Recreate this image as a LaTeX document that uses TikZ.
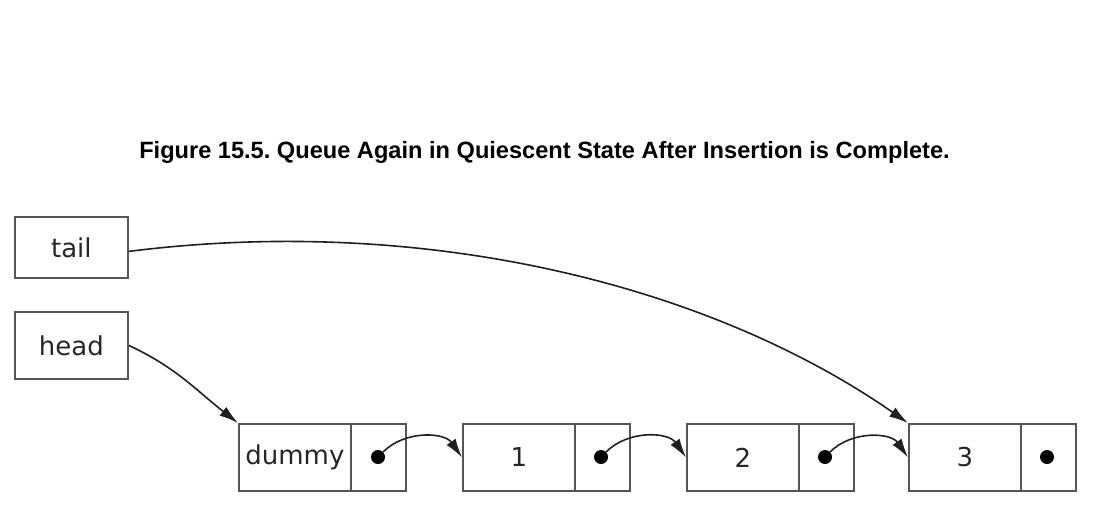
\documentclass[tikz,border=0pt]{standalone}
\usepackage{fontspec}
\setmainfont{DejaVu Sans}
\newfontfamily\titlefont{Liberation Sans}
\usetikzlibrary{arrows.meta}
\frenchspacing
\definecolor{boxline}{HTML}{555555}
\definecolor{inkline}{HTML}{202020}
\tikzset{
  cellbox/.style={draw=boxline, line width=1.8pt, rectangle, inner sep=0pt, anchor=north west,
    minimum height=67pt, font=\fontsize{26}{29}\selectfont, text=black!85},
  valcell/.style={cellbox, minimum width=112pt},
  ptrcell/.style={cellbox, minimum width=55pt},
  namebox/.style={cellbox, minimum width=113pt, minimum height=61pt},
  ptrdot/.style={circle, fill=black, inner sep=0pt, minimum size=14pt},
  link/.style={draw=inkline, line width=1.6pt, -{Latex[length=19pt,width=11pt]}},
}
\begin{document}
\begin{tikzpicture}[x=1pt,y=-1pt]
\useasboundingbox (0,0) rectangle (1094,514);
\node[font=\titlefont\bfseries\fontsize{23.6}{27}\selectfont] (title) at (544.5,152)
  {Figure 15.5. Queue Again in Quiescent State After Insertion is Complete.};
\node[namebox] (tail) at (14,216) {tail};
\node[namebox, minimum height=67pt] (head) at (14,311) {head};
% list nodes
\node[valcell] (d) at (238,423) {dummy};
\node[ptrcell] (dp) at (350,423) {};
\node[valcell] (n1) at (462,423) {1};
\node[ptrcell] (n1p) at (574,423) {};
\node[valcell] (n2) at (686,423) {2};
\node[ptrcell] (n2p) at (798,423) {};
\node[valcell] (n3) at (908,423) {3};
\node[ptrcell] (n3p) at (1020,423) {};
\node[ptrdot] (dd) at (378,457) {};
\node[ptrdot] (d1) at (601,457) {};
\node[ptrdot] (d2) at (825,457) {};
\node[ptrdot] (d3) at (1047,457) {};
% links
\draw[link] (dd) to[out=45,in=125] (n1.west);
\draw[link] (d1) to[out=45,in=125] (n2.west);
\draw[link] (d2) to[out=45,in=125] (n3.west);
\draw[link] (head.east) to[out=-25,in=142] (d.north west);
\draw[link] ([yshift=-4pt]tail.east) .. controls (425,214) and (710,285) .. (n3.north west);
\end{tikzpicture}
\end{document}
